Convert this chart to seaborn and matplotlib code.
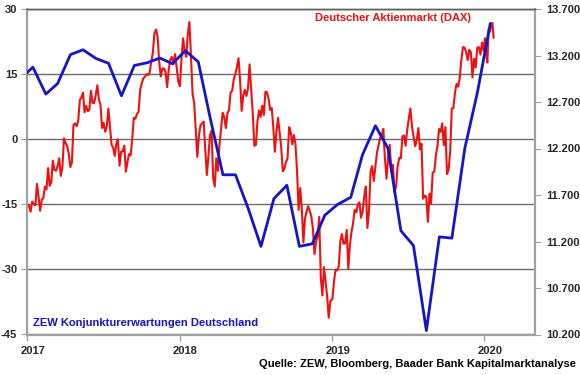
import pandas as pd
import numpy as np
import matplotlib
matplotlib.use("Agg")
import matplotlib.pyplot as plt
import matplotlib.dates as mdates
from matplotlib.ticker import FuncFormatter, NullFormatter
import seaborn as sns

# ZEW Konjunkturerwartungen, monthly, Dec 2016 - Jan 2020
zew = [13.8, 16.6, 10.4, 12.8, 19.5, 20.6, 18.6, 17.5, 10.0, 17.0, 17.6, 18.7,
       17.4, 20.4, 17.8, 5.1, -8.2, -8.2, -16.1, -24.7, -13.7, -10.6, -24.7,
       -24.1, -17.5, -15.0, -13.4, -3.6, 3.1, -2.1, -21.1, -24.5, -44.1, -22.5,
       -22.8, -2.1, 10.7, 26.7]
zew_dates = pd.date_range("2016-12-01", periods=len(zew), freq="MS") + pd.Timedelta(days=14)

# DAX, 8 readings per month
dax_2017 = [11600, 11585, 11520, 11630, 11600, 11590, 11820, 11680,
            11530, 11650, 11665, 11790, 11760, 11990, 11800, 11835,
            12070, 11970, 11960, 12010, 12095, 11905, 11995, 12310,
            12260, 12225, 12150, 12000, 12050, 12455, 12470, 12440,
            12500, 12720, 12750, 12800, 12590, 12660, 12600, 12615,
            12820, 12690, 12690, 12770, 12880, 12730, 12670, 12420,
            12475, 12380, 12440, 12630, 12430, 12240, 12210, 12120,
            12250, 12300, 12015, 12165, 12170, 12230, 11950, 12055,
            12140, 12125, 12300, 12530, 12520, 12570, 12595, 12830,
            12900, 12955, 12970, 13000, 12990, 13015, 13135, 13230,
            13440, 13480, 13400, 13130, 12975, 13060, 13060, 13025,
            12860, 13050, 13155, 13185, 13105, 13215, 13075, 12920]
dax_2018 = [12870, 13170, 13385, 13245, 13185, 13435, 13560, 13190,
            12785, 12690, 12390, 12110, 12340, 12450, 12470, 12490,
            12190, 11915, 12115, 12345, 12390, 11885, 11790, 12095,
            11960, 12240, 12415, 12585, 12540, 12420, 12580, 12610,
            12800, 12820, 12945, 13000, 13075, 13170, 12940, 12605,
            12770, 12830, 12765, 12845, 13105, 12835, 12580, 12230,
            12240, 12495, 12610, 12540, 12660, 12560, 12810, 12805,
            12735, 12615, 12635, 12425, 12165, 12385, 12530, 12365,
            12210, 11955, 11985, 12055, 12095, 12430, 12375, 12245,
            12345, 12245, 11950, 11540, 11775, 11555, 11190, 11445,
            11520, 11580, 11530, 11470, 11340, 11065, 11195, 11255,
            11465, 10810, 10620, 10925, 10770, 10610, 10380, 10560]
dax_2019 = [10580, 10770, 10895, 10890, 10930, 11205, 11280, 11175,
            11180, 11325, 10905, 11165, 11300, 11400, 11540, 11515,
            11600, 11620, 11455, 11525, 11685, 11790, 11345, 11525,
            11955, 12010, 11850, 12000, 12155, 12235, 12315, 12345,
            12410, 12095, 11875, 12100, 12240, 11950, 12025, 11725,
            11790, 12010, 12100, 12095, 12330, 12340, 12230, 12400,
            12520, 12630, 12435, 12325, 12225, 12290, 12420, 12190,
            12250, 11660, 11695, 11680, 11410, 11715, 11610, 11940,
            11950, 12125, 12225, 12410, 12380, 12470, 12235, 12430,
            11925, 11970, 12165, 12630, 12635, 12800, 12895, 12865,
            12960, 13150, 13290, 13285, 13240, 13150, 13260, 13235,
            12965, 13165, 13070, 13285, 13290, 13210, 13340, 13250]
dax_2020 = [13385, 13220, 13125, 13485, 13455, 13525, 13550, 13390]

dax = pd.concat([
    pd.Series(dax_2017, index=pd.date_range("2017-01-02", "2017-12-29", periods=len(dax_2017))),
    pd.Series(dax_2018, index=pd.date_range("2018-01-02", "2018-12-28", periods=len(dax_2018))),
    pd.Series(dax_2019, index=pd.date_range("2019-01-02", "2019-12-30", periods=len(dax_2019))),
    pd.Series(dax_2020, index=pd.date_range("2020-01-02", "2020-01-23", periods=len(dax_2020))),
])

left_ticks = [-45, -30, -15, 0, 15, 30]
right_ticks = list(range(10200, 13701, 500))

RED = "#ee1111"
BLUE = "#1414c8"

sns.set_style("white")
plt.rcParams["font.family"] = ["Liberation Sans", "DejaVu Sans"]
plt.rcParams["font.weight"] = "bold"
plt.rcParams["font.size"] = 8
plt.rcParams["axes.unicode_minus"] = False

fig = plt.figure(figsize=(5.8, 3.75), dpi=100)
ax = fig.add_axes([0.0466, 0.108, 0.8758, 0.868])
ax2 = ax.twinx()
ax3 = ax.twinx()

# left axis: scale + grid
ax.set_ylim(-45, 30)
ax.set_yticks(left_ticks)
ax.yaxis.grid(True, color="#6a6a6a", linewidth=1)
ax.xaxis.grid(False)

# DAX on right axis
sns.lineplot(x=dax.index, y=dax.values, ax=ax2, color=RED, linewidth=1.5)
ax2.set_ylim(10200, 13700)
ax2.set_yticks(right_ticks)
ax2.yaxis.set_major_formatter(FuncFormatter(lambda v, p: f"{v/1000:.3f}"))

# ZEW on top
sns.lineplot(x=zew_dates, y=zew, ax=ax3, color=BLUE, linewidth=2)
ax3.set_ylim(-45, 30)
ax3.set_axis_off()

ax.set_xlim(pd.Timestamp("2017-01-01"), pd.Timestamp("2020-05-01"))
ax.xaxis.set_major_locator(mdates.YearLocator())
ax.xaxis.set_major_formatter(NullFormatter())
ax.xaxis.set_minor_locator(mdates.MonthLocator(bymonth=1, bymonthday=15))
ax.xaxis.set_minor_formatter(mdates.DateFormatter("%Y"))
ax.tick_params(axis="x", which="major", length=4, color="#a0a0a0", width=1, bottom=True)
ax.tick_params(axis="x", which="minor", length=0, pad=8, labelsize=8)
ax.tick_params(axis="y", length=4, color="#a0a0a0", pad=3, labelsize=8, left=True)
ax2.tick_params(axis="y", length=4, color="#a0a0a0", pad=4, labelsize=8, right=True)

for a in (ax, ax2):
    a.set_xlabel("")
    a.set_ylabel("")
    for side in ("left", "right", "bottom"):
        a.spines[side].set_color("#a0a0a0")
        a.spines[side].set_linewidth(1.5)
    a.spines["top"].set_color("#606060")
    a.spines["top"].set_linewidth(1)

fig.text(0.812, 0.952, "Deutscher Aktienmarkt (DAX)", color=RED, ha="right",
         va="center", fontsize=8, fontweight="bold")
fig.text(0.057, 0.139, "ZEW Konjunkturerwartungen Deutschland", color=BLUE,
         ha="left", va="center", fontsize=8, fontweight="bold")
fig.text(0.993, 0.029, "Quelle: ZEW, Bloomberg, Baader Bank Kapitalmarktanalyse",
         color="black", ha="right", va="center", fontsize=8, fontweight="bold")

fig.savefig("out.png", dpi=100)
